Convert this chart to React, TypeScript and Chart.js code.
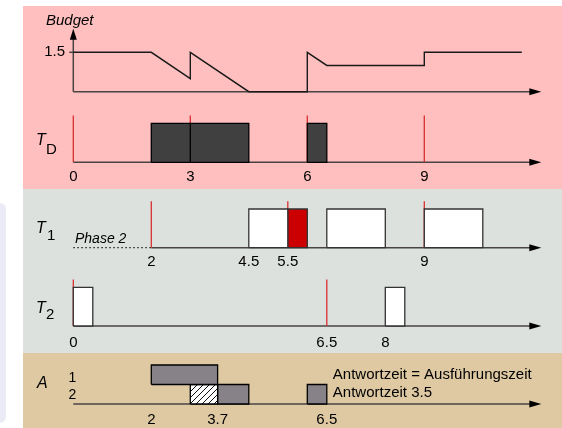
import React, { useEffect, useRef } from 'react';
import { Chart, registerables } from 'chart.js';

Chart.register(...registerables);

// ---------- data ----------
const budgetTimes = [0, 2, 3, 3, 4.5, 6, 6, 6.5, 9, 9, 11.5];
const budgetValues = [1.5, 1.5, 0.5, 1.5, 0, 0, 1.5, 1.0, 1.0, 1.5, 1.5];
const budgetTickValue = 1.5;

const tdJobs: number[][] = [[2, 3], [3, 4.5], [6, 6.5]];
const tdReleases = [0, 3, 6, 9];
const tdTicks = [0, 3, 6, 9];

const t1Phase = 2;
const t1Jobs: number[][] = [[4.5, 5.5], [6.5, 8], [9, 10.5]];
const t1Overrun: number[][] = [[5.5, 6]];
const t1Releases = [2, 5.5, 9];
const t1Ticks = [2, 4.5, 5.5, 9];

const t2Jobs: number[][] = [[0, 0.5], [8, 8.5]];
const t2Releases = [0, 6.5];
const t2Ticks = [0, 6.5, 8];

const aRow1: number[][] = [[2, 3.7]];
const aRow2Hatched: number[][] = [[3, 3.7]];
const aRow2: number[][] = [[3.7, 4.5], [6, 6.5]];
const aTicks = [2, 3.7, 6.5];

const legendLine1 = 'Antwortzeit = Ausführungszeit';
const legendLine2 = 'Antwortzeit 3.5';

// ---------- layout / style ----------
const W = 562;
const H = 428;
const X0_PX = 73.3;
const X_UNIT = 39;
const AXIS_END = 12;
const RED_TOP = 1.2;
const FONT = "'Liberation Sans', Arial, Helvetica, sans-serif";

function yAxis(basePx: number, unitPx: number) {
  return {
    type: 'linear' as const,
    display: false,
    min: -(H - basePx) / unitPx,
    max: basePx / unitPx,
  };
}

function rectDs(x0: number, x1: number, y0: number, y1: number, axis: string, bg: any, border: string) {
  return {
    type: 'line' as const,
    data: [
      { x: x0, y: y0 },
      { x: x0, y: y1 },
      { x: x1, y: y1 },
      { x: x1, y: y0 },
      { x: x0, y: y0 },
    ],
    yAxisID: axis,
    fill: 'shape',
    backgroundColor: bg,
    borderColor: border,
    borderWidth: 1.3,
    pointRadius: 0,
    tension: 0,
    order: 1,
  };
}

function releaseDs(xs: number[], axis: string) {
  const pts: any[] = [];
  xs.forEach((x) => {
    pts.push({ x, y: 0 }, { x, y: RED_TOP }, { x, y: null });
  });
  return {
    type: 'line' as const,
    data: pts,
    yAxisID: axis,
    borderColor: '#d83030',
    borderWidth: 1.3,
    pointRadius: 0,
    fill: false,
    spanGaps: false,
    order: 10,
  };
}

function makeHatch(): CanvasPattern | string {
  const c = document.createElement('canvas');
  c.width = 6;
  c.height = 6;
  const g = c.getContext('2d');
  if (!g) return '#ffffff';
  g.fillStyle = '#ffffff';
  g.fillRect(0, 0, 6, 6);
  g.strokeStyle = '#111111';
  g.lineWidth = 1;
  g.beginPath();
  g.moveTo(-1, 7);
  g.lineTo(7, -1);
  g.stroke();
  const p = g.createPattern(c, 'repeat');
  return p || '#ffffff';
}

function arrowRight(ctx: CanvasRenderingContext2D, xTip: number, y: number) {
  ctx.beginPath();
  ctx.moveTo(xTip, y);
  ctx.lineTo(xTip - 12, y - 3.5);
  ctx.lineTo(xTip - 12, y + 3.5);
  ctx.closePath();
  ctx.fill();
}

const decor = {
  id: 'decor',
  beforeDraw(chart: any) {
    const ctx: CanvasRenderingContext2D = chart.ctx;
    ctx.save();
    ctx.fillStyle = '#ffffff';
    ctx.fillRect(0, 0, W, H);
    // lavender side box
    ctx.fillStyle = '#ebebf7';
    ctx.beginPath();
    const r = 7;
    ctx.moveTo(-10, 203);
    ctx.lineTo(6 - r, 203);
    ctx.quadraticCurveTo(6, 203, 6, 203 + r);
    ctx.lineTo(6, 423 - r);
    ctx.quadraticCurveTo(6, 423, 6 - r, 423);
    ctx.lineTo(-10, 423);
    ctx.closePath();
    ctx.fill();
    ctx.fillStyle = '#ffbfbf';
    ctx.fillRect(23, 6, W - 23, 183);
    ctx.fillStyle = '#dde1dd';
    ctx.fillRect(23, 189, W - 23, 164);
    ctx.fillStyle = '#dec9a3';
    ctx.fillRect(23, 353, W - 23, H - 353);
    ctx.restore();
  },
  beforeDatasetsDraw(chart: any) {
    const ctx: CanvasRenderingContext2D = chart.ctx;
    const xs = chart.scales.x;
    const tip = xs.getPixelForValue(AXIS_END);
    ctx.save();
    ctx.strokeStyle = '#484444';
    ctx.fillStyle = '#000000';
    ctx.lineWidth = 1.5;
    const rows: [string, number][] = [
      ['yB', 0],
      ['yTD', 0],
      ['yT1', t1Phase],
      ['yT2', 0],
      ['yA', 0],
    ];
    rows.forEach(([id, start]) => {
      const y = chart.scales[id].getPixelForValue(0);
      ctx.beginPath();
      ctx.moveTo(xs.getPixelForValue(start), y);
      ctx.lineTo(tip - 6, y);
      ctx.stroke();
      arrowRight(ctx, tip, y);
    });
    // budget vertical axis
    const yb = chart.scales.yB;
    const x0 = xs.getPixelForValue(0);
    const yTop = yb.getPixelForValue(2.4);
    ctx.beginPath();
    ctx.moveTo(x0, yb.getPixelForValue(0));
    ctx.lineTo(x0, yTop + 6);
    ctx.stroke();
    ctx.beginPath();
    ctx.moveTo(x0, yTop);
    ctx.lineTo(x0 - 3.5, yTop + 11);
    ctx.lineTo(x0 + 3.5, yTop + 11);
    ctx.closePath();
    ctx.fill();
    const y15 = yb.getPixelForValue(budgetTickValue);
    ctx.beginPath();
    ctx.moveTo(x0 - 4, y15);
    ctx.lineTo(x0, y15);
    ctx.stroke();
    ctx.restore();
  },
  afterDraw(chart: any) {
    const ctx: CanvasRenderingContext2D = chart.ctx;
    const xs = chart.scales.x;
    ctx.save();
    ctx.fillStyle = '#000000';
    ctx.textBaseline = 'middle';

    const ticks = (vals: number[], y: number) => {
      ctx.font = `15px ${FONT}`;
      ctx.textAlign = 'center';
      vals.forEach((v) => ctx.fillText(String(v), xs.getPixelForValue(v), y));
    };
    ticks(tdTicks, 176.7);
    ticks(t1Ticks, 261.7);
    ticks(t2Ticks, 343.3);
    ticks(aTicks, 420);

    ctx.textAlign = 'left';
    ctx.font = `italic 15px ${FONT}`;
    ctx.fillText('Budget', 46, 20.5);
    ctx.textAlign = 'right';
    ctx.font = `15px ${FONT}`;
    ctx.fillText(String(budgetTickValue), 65, chart.scales.yB.getPixelForValue(budgetTickValue));

    ctx.textAlign = 'left';
    const tLabel = (sub: string, y: number, subX: number, subDy: number) => {
      ctx.font = `italic 16px ${FONT}`;
      ctx.fillText('T', 36, y);
      ctx.font = `15px ${FONT}`;
      ctx.fillText(sub, subX, y + subDy);
    };
    tLabel('D', 141, 46, 8.5);
    tLabel('1', 228.5, 47, 7.5);
    tLabel('2', 308.3, 46, 6.5);

    ctx.font = `italic 14px ${FONT}`;
    ctx.fillText('Phase 2', 75, 239.5);

    ctx.font = `italic 16px ${FONT}`;
    ctx.fillText('A', 37, 384);
    ctx.font = `14px ${FONT}`;
    ctx.textAlign = 'center';
    ctx.fillText('1', 72.5, 377.7);
    ctx.fillText('2', 72.5, 395);

    ctx.textAlign = 'left';
    ctx.font = `15px ${FONT}`;
    const lx = xs.getPixelForValue(6.5) + 6;
    ctx.fillText(legendLine1, lx, 375);
    ctx.fillText(legendLine2, lx, 393.3);
    ctx.restore();
  },
};

export default function App() {
  const ref = useRef<HTMLCanvasElement | null>(null);
  useEffect(() => {
    if (!ref.current) return;
    const hatch = makeHatch();
    const datasets: any[] = [];

    datasets.push({
      type: 'line',
      data: budgetTimes.map((t, i) => ({ x: t, y: budgetValues[i] })),
      yAxisID: 'yB',
      borderColor: '#1a1a1a',
      borderWidth: 1.4,
      pointRadius: 0,
      tension: 0,
      fill: false,
      order: 2,
    });

    datasets.push(releaseDs(tdReleases, 'yTD'));
    datasets.push(releaseDs(t1Releases, 'yT1'));
    datasets.push(releaseDs(t2Releases, 'yT2'));

    datasets.push({
      type: 'line',
      data: [{ x: 0, y: 0 }, { x: t1Phase, y: 0 }],
      yAxisID: 'yT1',
      borderColor: '#222222',
      borderWidth: 1.3,
      borderDash: [1.5, 2.5],
      pointRadius: 0,
      fill: false,
      order: 5,
    });

    tdJobs.forEach(([a, b]) => datasets.push(rectDs(a, b, 0, 1, 'yTD', '#404040', '#000000')));
    t1Jobs.forEach(([a, b]) => datasets.push(rectDs(a, b, 0, 1, 'yT1', '#ffffff', '#333333')));
    t1Overrun.forEach(([a, b]) => datasets.push(rectDs(a, b, 0, 1, 'yT1', '#cc0000', '#333333')));
    t2Jobs.forEach(([a, b]) => datasets.push(rectDs(a, b, 0, 1, 'yT2', '#ffffff', '#333333')));
    aRow1.forEach(([a, b]) => datasets.push(rectDs(a, b, 1, 2, 'yA', '#878287', '#000000')));
    aRow2Hatched.forEach(([a, b]) => datasets.push(rectDs(a, b, 0, 1, 'yA', hatch, '#000000')));
    aRow2.forEach(([a, b]) => datasets.push(rectDs(a, b, 0, 1, 'yA', '#878287', '#000000')));

    const chart = new Chart(ref.current, {
      type: 'line',
      data: { datasets },
      options: {
        animation: false,
        responsive: false,
        maintainAspectRatio: false,
        events: [],
        layout: { padding: 0 },
        plugins: {
          legend: { display: false },
          tooltip: { enabled: false },
          title: { display: false },
        },
        scales: {
          x: {
            type: 'linear',
            display: false,
            min: -X0_PX / X_UNIT,
            max: (W - X0_PX) / X_UNIT,
          },
          yB: yAxis(91.7, 26.27),
          yTD: yAxis(162.3, 39),
          yT1: yAxis(247.7, 38.7),
          yT2: yAxis(326, 38.7),
          yA: yAxis(404, 19.5),
        },
      } as any,
      plugins: [decor],
    });
    return () => chart.destroy();
  }, []);

  return (
    <div style={{ position: 'fixed', left: 0, top: 0, width: W, height: H }}>
      <canvas ref={ref} width={W} height={H} style={{ width: W, height: H, display: 'block' }} />
    </div>
  );
}
